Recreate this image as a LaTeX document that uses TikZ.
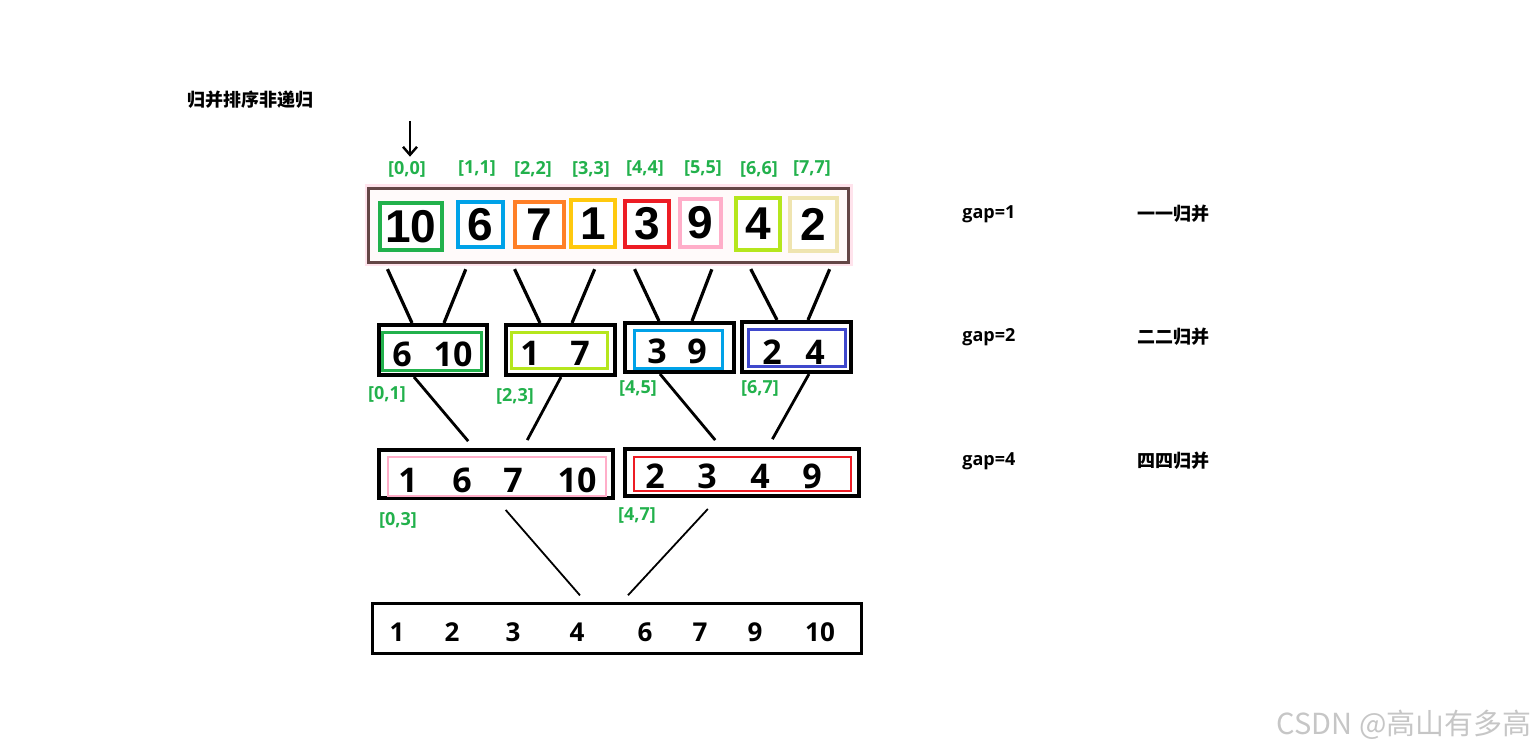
\documentclass[tikz,border=0pt]{standalone}
\usepackage{fontspec}
\setmainfont{Open Sans}
\newfontfamily\cjk{Noto Sans CJK SC}
\newfontfamily\arialb{Liberation Sans}
\usepackage{xcolor}
\usepackage{tikz}
\usetikzlibrary{positioning,arrows.meta,calc}

\definecolor{pgreen}{HTML}{22B14C}
\definecolor{pblue}{HTML}{00A2E8}
\definecolor{porange}{HTML}{FF7F27}
\definecolor{pyellow}{HTML}{FFC90E}
\definecolor{pred}{HTML}{ED1C24}
\definecolor{ppink}{HTML}{FFAEC9}
\definecolor{plime}{HTML}{B5E61D}
\definecolor{pbeige}{HTML}{EFE4B0}
\definecolor{pindigo}{HTML}{3F48CC}
\definecolor{pframe}{HTML}{644646}

\begin{document}
\begin{tikzpicture}[x=0.5pt,y=-0.5pt,
  leaf/.style={draw=#1, line width=2pt, inner sep=0pt, fill=white,
    font=\arialb\bfseries\fontsize{23}{23}\selectfont},
  pair/.style={draw=black, line width=2pt, inner sep=0pt},
  inbox/.style={draw=#1, line width=1.5pt, inner sep=0pt},
  idx/.style={text=pgreen, inner sep=0pt, font=\bfseries\fontsize{9}{9}\selectfont},
  num/.style={inner sep=0pt, font=\bfseries\fontsize{17}{17}\selectfont},
  link/.style={line width=1.6pt},
  tag/.style={anchor=west, inner sep=0pt, font=\cjk\bfseries\fontsize{9}{9}\selectfont}]
\useasboundingbox (0,0) rectangle (1538,754);

% Title
\node[tag] (title) at (187,100) {归并排序非递归};

% First level: single elements
\node[draw=pframe, line width=1.2pt, fill=red!2, inner sep=0pt,
  preaction={draw=ppink!35, line width=4pt},
  minimum width=240pt, minimum height=37pt] (row) at (608.5,225.5) {};
\foreach \i/\x/\y/\w/\h/\col/\v in {0/411/226.5/31/23.5/pgreen/10, 1/480.5/224.5/22.5/22.5/pblue/6,
    2/539.5/224.5/24.5/22.5/porange/7, 3/593/223.5/22/23.5/pyellow/1,
    4/647/224/22/23/pred/3, 5/700.5/223/20.5/24/ppink/9,
    6/758/224/22/26/plime/4, 7/813.5/224.5/23.5/26.5/pbeige/2}
  \node[leaf=\col, minimum width=\w pt, minimum height=\h pt] (c\i) at (\x,\y) {\v};

% Index labels
\foreach \i/\x in {0/407, 1/477, 2/533, 3/591, 4/645, 5/703, 6/759, 7/812}
  \node[idx] (l\i) at (\x,169) {[\i,\i]};
\coordinate (ptr) at (410,121);
\draw[line width=1.2pt, -{Straight Barb[length=4pt,width=7pt]}, shorten >=2pt] (ptr) -- (ptr |- l0.north);

% Second level: gap=2
\node[pair, minimum width=54pt, minimum height=25pt] (p01) at (433,350) {};
\node[inbox=pgreen, minimum width=49.5pt, minimum height=19pt] (q01) at (432,351.5) {};
\node[pair, minimum width=54.5pt, minimum height=25pt] (p23) at (560.5,350) {};
\node[inbox=plime, minimum width=48pt, minimum height=18pt] (q23) at (559.5,350.5) {};
\node[pair, minimum width=54.5pt, minimum height=24.5pt] (p45) at (679.5,347.5) {};
\node[inbox=pblue, minimum width=44pt, minimum height=19pt] (q45) at (678.5,349.5) {};
\node[pair, minimum width=54.5pt, minimum height=25pt] (p67) at (796.5,347) {};
\node[inbox=pindigo, minimum width=48.5pt, minimum height=18.5pt] (q67) at (797,348) {};
\foreach \v/\x/\y in {6/402/354.5, 10/453/354.5, 1/530/353.5, 7/580/353.5,
    3/657/351, 9/697/351, 2/772/352, 4/815/352}
  \node[num] (u\v) at (\x,\y) {\v};
\node[idx] (l01) at (387,394) {[0,1]};
\node[idx] (l23) at (515,396) {[2,3]};
\node[idx] (l45) at (638,388) {[4,5]};
\node[idx] (l67) at (760,388) {[6,7]};

% Third level: gap=4
\node[pair, minimum width=117pt, minimum height=24pt] (s03) at (496,474) {};
\node[inbox=ppink, line width=1pt, minimum width=109pt, minimum height=19.5pt] (t03) at (497,476.5) {};
\node[pair, minimum width=117pt, minimum height=23.5pt] (s47) at (742,472.5) {};
\node[inbox=pred, line width=1pt, minimum width=108.5pt, minimum height=17pt] (t47) at (742.5,474) {};
\foreach \v/\x/\y in {1/408/480, 6/462/480, 7/513/480, 10/577/480,
    2/655/476, 3/707/476, 4/760/476, 9/812/476}
  \node[num] (v\v) at (\x,\y) {\v};
\node[idx] (l03) at (398,520) {[0,3]};
\node[idx] (l47) at (637,515) {[4,7]};

% Result
\node[draw, line width=1.2pt, inner sep=0pt, minimum width=244.5pt, minimum height=25pt] (all) at (617,628.5) {};
\foreach \v/\x in {1/397, 2/452, 3/513, 4/577, 6/645, 7/700, 9/755, 10/820}
  \node[num, font=\bfseries\fontsize{13}{13}\selectfont] (w\v) at (\x,632) {\v};

% Connectors
\foreach \a/\b/\c in {385/412/p01, 468/444/p01, 512/540/p23, 597/572/p23,
    632/659/p45, 714/692/p45, 748/777/p67, 832/808/p67}
  \draw[link, shorten <=3pt] (row.south -| \a,0) -- (\c.north -| \b,0);
\foreach \a/\p/\b/\s in {414/p01/474/s03, 561/p23/523/s03, 660/p45/721/s47, 809/p67/768/s47}
  \draw[link, line width=1.4pt, shorten >=4.5pt] (\p.south -| \a,0) -- (\s.north -| \b,0);
\draw[line width=0.9pt, shorten <=6.6pt, shorten >=4.6pt] (s03.south -| 497,0) -- (all.north -| 586,0);
\draw[line width=0.9pt, shorten <=7.5pt, shorten >=4.8pt] (s47.south -| 718,0) -- (all.north -| 621.5,0);

% Side notes
\node[tag, font=\bfseries\fontsize{9}{9}\selectfont] (g1) at (962,214) {gap=1};
\node[tag] (m1) at (1137,214) {一一归并};
\node[tag, font=\bfseries\fontsize{9}{9}\selectfont] (g2) at (962,337) {gap=2};
\node[tag] (m2) at (1137,337) {二二归并};
\node[tag, font=\bfseries\fontsize{9}{9}\selectfont] (g4) at (962,461) {gap=4};
\node[tag] (m4) at (1137,461) {四四归并};

% Watermark
\node[anchor=east, inner sep=0pt, text=gray!45, font=\cjk\fontsize{14.5}{14.5}\selectfont] (mark) at (1532,725) {CSDN @高山有多高};
\end{tikzpicture}
\end{document}
